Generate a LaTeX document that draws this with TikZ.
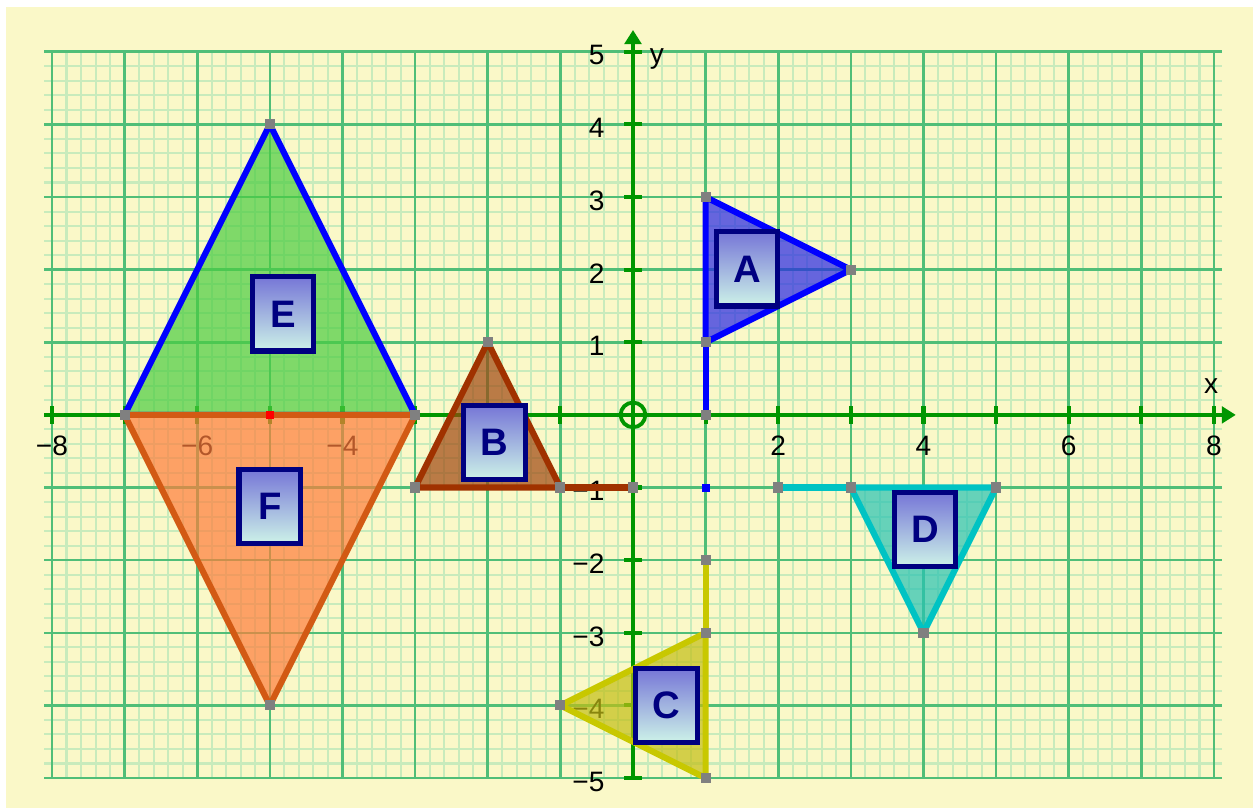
\documentclass[tikz,border=0pt]{standalone}
\usepackage{fontspec}
\setmainfont{Liberation Sans}
\usetikzlibrary{arrows.meta}
\definecolor{paper}{RGB}{250,248,200}
\definecolor{gridminor}{RGB}{200,235,188}
\definecolor{gridmajor}{RGB}{80,190,120}
\definecolor{axisgreen}{RGB}{0,150,0}
\definecolor{vgray}{RGB}{128,128,128}
\definecolor{navy}{RGB}{0,0,128}
\definecolor{eline}{RGB}{0,0,255}
\definecolor{efill}{RGB}{75,205,65}
\definecolor{fline}{RGB}{210,90,20}
\definecolor{ffill}{RGB}{255,125,60}
\definecolor{bline}{RGB}{160,50,0}
\definecolor{bfill}{RGB}{160,70,15}
\definecolor{aline}{RGB}{0,0,255}
\definecolor{afill}{RGB}{40,40,230}
\definecolor{cline}{RGB}{200,200,0}
\definecolor{cfill}{RGB}{195,190,20}
\definecolor{dline}{RGB}{0,195,195}
\definecolor{dfill}{RGB}{40,195,180}
\definecolor{tagtop}{RGB}{118,118,215}
\definecolor{tagbot}{RGB}{205,242,232}

\begin{document}
\begin{tikzpicture}[font=\fontsize{11}{13}\selectfont,
    minor/.style={draw=gridminor, line width=0.8pt},
    major/.style={draw=gridmajor, line width=1pt},
    axis/.style={draw=axisgreen, line width=1.6pt},
    poly/.style={line width=2.4pt, line join=round, fill opacity=0.7},
    vtx/.style={fill=vgray, minimum size=0.14cm, inner sep=0pt},
    tag/.style={draw=navy, line width=2pt, top color=tagtop, bottom color=tagbot,
        minimum width=0.85cm, minimum height=1.02cm, inner sep=0pt, text=navy,
        font=\fontsize{15}{15}\selectfont\bfseries}
]
    \fill[white] (-8.716,-5.413) rectangle (8.537,5.713);
    \fill[paper] (-8.633,-5.413) rectangle (8.537,5.617);
    \useasboundingbox (-8.716,-5.413) rectangle (8.537,5.713);

    \foreach \i in {-40,...,40} \draw[minor] (\i/5,-5) -- (\i/5,5);
    \foreach \j in {-25,...,25} \draw[minor] (-8.11,\j/5) -- (8.11,\j/5);
    \foreach \i in {-8,...,8} \draw[major] (\i,-5) -- (\i,5);
    \foreach \j in {-5,...,5} \draw[major] (-8.11,\j) -- (8.11,\j);

    \coordinate (xl) at (-8.11,0);
    \coordinate (xr) at (8.3,0);
    \coordinate (yb) at (0,-5);
    \coordinate (yt) at (0,5.3);
    \draw[axis, -{Triangle[length=5.5pt,width=6.5pt]}] (xl) -- (xr);
    \draw[axis, -{Triangle[length=5.5pt,width=6.5pt]}] (yb) -- (yt);
    \foreach \i in {-8,...,-1,1,2,...,8} \draw[axis] (\i,-0.12) -- (\i,0.12);
    \foreach \j in {-5,...,-1,1,2,...,5} \draw[axis] (-0.12,\j) -- (0.12,\j);
    \draw[axis, line width=1.5pt] (0,0) circle (0.17);

    \foreach \i/\t in {-8/−8,-6/−6,-4/−4,2/2,4/4,6/6,8/8}
        \node (tx\i) at (\i,-0.43) {\t};
    \foreach \j/\t in {-5/−5,-4/−4,-3/−3,-2/−2,-1/−1,1/1,2/2,3/3,4/4,5/5}
        \node[anchor=east] (ty\j) at (-0.27,\j-0.05) {\t};
    \node (xlab) at (7.96,0.39) {x};
    \node (ylab) at (0.33,4.9) {y};

    \coordinate (e1) at (-7,0);
    \coordinate (e2) at (-5,4);
    \coordinate (e3) at (-3,0);
    \coordinate (f2) at (-5,-4);
    \coordinate (b1) at (-3,-1);
    \coordinate (b2) at (-2,1);
    \coordinate (b3) at (-1,-1);
    \coordinate (b4) at (0,-1);
    \coordinate (a1) at (1,3);
    \coordinate (a2) at (3,2);
    \coordinate (a3) at (1,1);
    \coordinate (a4) at (1,0);
    \coordinate (c1) at (1,-2);
    \coordinate (c2) at (1,-3);
    \coordinate (c3) at (-1,-4);
    \coordinate (c4) at (1,-5);
    \coordinate (d1) at (2,-1);
    \coordinate (d2) at (3,-1);
    \coordinate (d3) at (5,-1);
    \coordinate (d4) at (4,-3);

    \draw[poly, draw=eline, fill=efill] (e1) -- (e2) -- (e3) -- cycle;
    \draw[poly, draw=fline, fill=ffill] (e1) -- (f2) -- (e3) -- cycle;
    \draw[poly, draw=bline, fill=bfill] (b1) -- (b2) -- (b3) -- cycle;
    \draw[poly, draw=bline] (b3) -- (b4);
    \draw[poly, draw=aline, fill=afill] (a1) -- (a2) -- (a3) -- cycle;
    \draw[poly, draw=aline] (a3) -- (a4);
    \draw[poly, draw=cline, fill=cfill] (c2) -- (c3) -- (c4) -- cycle;
    \draw[poly, draw=cline] (c1) -- (c2);
    \draw[poly, draw=dline, fill=dfill] (d2) -- (d3) -- (d4) -- cycle;
    \draw[poly, draw=dline] (d1) -- (d2);

    \foreach \p in {e1,e2,e3,f2,b1,b2,b3,b4,a1,a2,a3,a4,c1,c2,c3,c4,d1,d2,d3,d4}
        \node[vtx] (v\p) at (\p) {};
    \node[vtx, fill=red, minimum size=0.12cm] (mid) at (-5,0) {};
    \node[vtx, fill=blue, minimum size=0.11cm] (pt) at (1,-1) {};

    \node[tag] (labA) at (1.57,2.01) {A};
    \node[tag] (labB) at (-1.91,-0.38) {B};
    \node[tag] (labC) at (0.46,-4.0) {C};
    \node[tag] (labD) at (4.02,-1.58) {D};
    \node[tag] (labE) at (-4.82,1.39) {E};
    \node[tag] (labF) at (-5.0,-1.26) {F};
\end{tikzpicture}
\end{document}
